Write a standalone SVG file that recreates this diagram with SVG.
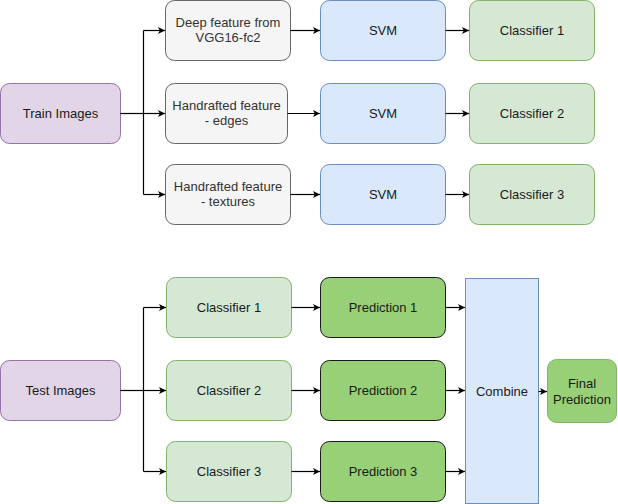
<svg xmlns="http://www.w3.org/2000/svg" width="618" height="504" viewBox="0 0 618 504">
<defs>
<marker id="arr" viewBox="0 0 10 10" refX="10" refY="5" markerWidth="7" markerHeight="7" markerUnits="userSpaceOnUse" orient="auto">
<path d="M0,0 L10,5 L0,10 L2.5,5 Z" fill="#000"/>
</marker>
<style>
text{font-family:"Liberation Sans",Arial,sans-serif;font-size:13px;text-anchor:middle;fill:#1a1a1a}
.purple{fill:#e1d5e7;stroke:#9673a6}
.gray{fill:#f5f5f5;stroke:#666666}
.blue{fill:#dae8fc;stroke:#6c8ebf}
.green{fill:#d5e8d4;stroke:#82b366}
.pred{fill:#97d077;stroke:#1a1a1a}
.final{fill:#97d077;stroke:#82b366}
.gt{fill:#333333}
.conn path{fill:none;stroke:#000;stroke-width:1.2}
</style>
</defs>
<rect width="618" height="504" fill="#ffffff"/>

<g id="train"><rect class="purple" x="0.5" y="83.5" width="120" height="60" rx="9"/><text x="60.5" y="118">Train Images</text></g>
<g id="feat1"><rect class="gray" x="165.5" y="0.5" width="125" height="60" rx="9"/><text class="gt" x="228" y="27">Deep feature from</text><text class="gt" x="228" y="42">VGG16-fc2</text></g>
<g id="feat2"><rect class="gray" x="165.5" y="83.5" width="122" height="60" rx="9"/><text class="gt" x="226.5" y="110">Handrafted feature</text><text class="gt" x="226.5" y="125">- edges</text></g>
<g id="feat3"><rect class="gray" x="165.5" y="164.5" width="125" height="60" rx="9"/><text class="gt" x="228" y="191">Handrafted feature</text><text class="gt" x="228" y="206">- textures</text></g>
<g id="svm1"><rect class="blue" x="320.5" y="0.5" width="125" height="60" rx="9"/><text x="383" y="35">SVM</text></g>
<g id="svm2"><rect class="blue" x="320.5" y="83.5" width="125" height="60" rx="9"/><text x="383" y="118">SVM</text></g>
<g id="svm3"><rect class="blue" x="320.5" y="164.5" width="125" height="60" rx="9"/><text x="383" y="199">SVM</text></g>
<g id="clf1"><rect class="green" x="469.5" y="0.5" width="125" height="60" rx="9"/><text x="532" y="35">Classifier 1</text></g>
<g id="clf2"><rect class="green" x="469.5" y="83.5" width="125" height="60" rx="9"/><text x="532" y="118">Classifier 2</text></g>
<g id="clf3"><rect class="green" x="469.5" y="164.5" width="125" height="60" rx="9"/><text x="532" y="199">Classifier 3</text></g>

<g id="test"><rect class="purple" x="0.5" y="360.5" width="120" height="60" rx="9"/><text x="60.5" y="395">Test Images</text></g>
<g id="tclf1"><rect class="green" x="166.5" y="277.5" width="125" height="60" rx="9"/><text x="229" y="312">Classifier 1</text></g>
<g id="tclf2"><rect class="green" x="166.5" y="360.5" width="125" height="60" rx="9"/><text x="229" y="395">Classifier 2</text></g>
<g id="tclf3"><rect class="green" x="166.5" y="441.5" width="125" height="60" rx="9"/><text x="229" y="476">Classifier 3</text></g>
<g id="pred1"><rect class="pred" x="320.5" y="277.5" width="125" height="60" rx="9"/><text x="383" y="312">Prediction 1</text></g>
<g id="pred2"><rect class="pred" x="320.5" y="360.5" width="125" height="60" rx="9"/><text x="383" y="395">Prediction 2</text></g>
<g id="pred3"><rect class="pred" x="320.5" y="441.5" width="125" height="60" rx="9"/><text x="383" y="476">Prediction 3</text></g>
<g id="combine"><rect class="blue" x="465.5" y="278.5" width="73" height="225"/><text x="502" y="396">Combine</text></g>
<g id="final"><rect class="final" x="547.5" y="359.5" width="69" height="63" rx="9"/><text x="582" y="388">Final</text><text x="582" y="404">Prediction</text></g>

<g class="conn" id="connectors">
<path d="M120.5,113.5 H143.5"/>
<path d="M143.5,30.5 V194.5"/>
<path d="M143.5,30.5 H165" marker-end="url(#arr)"/>
<path d="M143.5,113.5 H165" marker-end="url(#arr)"/>
<path d="M143.5,194.5 H165" marker-end="url(#arr)"/>
<path d="M290.5,30.5 H320" marker-end="url(#arr)"/>
<path d="M287.5,113.5 H320" marker-end="url(#arr)"/>
<path d="M290.5,194.5 H320" marker-end="url(#arr)"/>
<path d="M445.5,30.5 H469" marker-end="url(#arr)"/>
<path d="M445.5,113.5 H469" marker-end="url(#arr)"/>
<path d="M445.5,194.5 H469" marker-end="url(#arr)"/>

<path d="M120.5,390.5 H143.5"/>
<path d="M143.5,307.5 V471.5"/>
<path d="M143.5,307.5 H166" marker-end="url(#arr)"/>
<path d="M143.5,390.5 H166" marker-end="url(#arr)"/>
<path d="M143.5,471.5 H166" marker-end="url(#arr)"/>
<path d="M291.5,307.5 H320" marker-end="url(#arr)"/>
<path d="M291.5,390.5 H320" marker-end="url(#arr)"/>
<path d="M291.5,471.5 H320" marker-end="url(#arr)"/>
<path d="M445.5,307.5 H465" marker-end="url(#arr)"/>
<path d="M445.5,390.5 H465" marker-end="url(#arr)"/>
<path d="M445.5,471.5 H465" marker-end="url(#arr)"/>
<path d="M538.5,391.5 H547" marker-end="url(#arr)"/>
</g>
</svg>
